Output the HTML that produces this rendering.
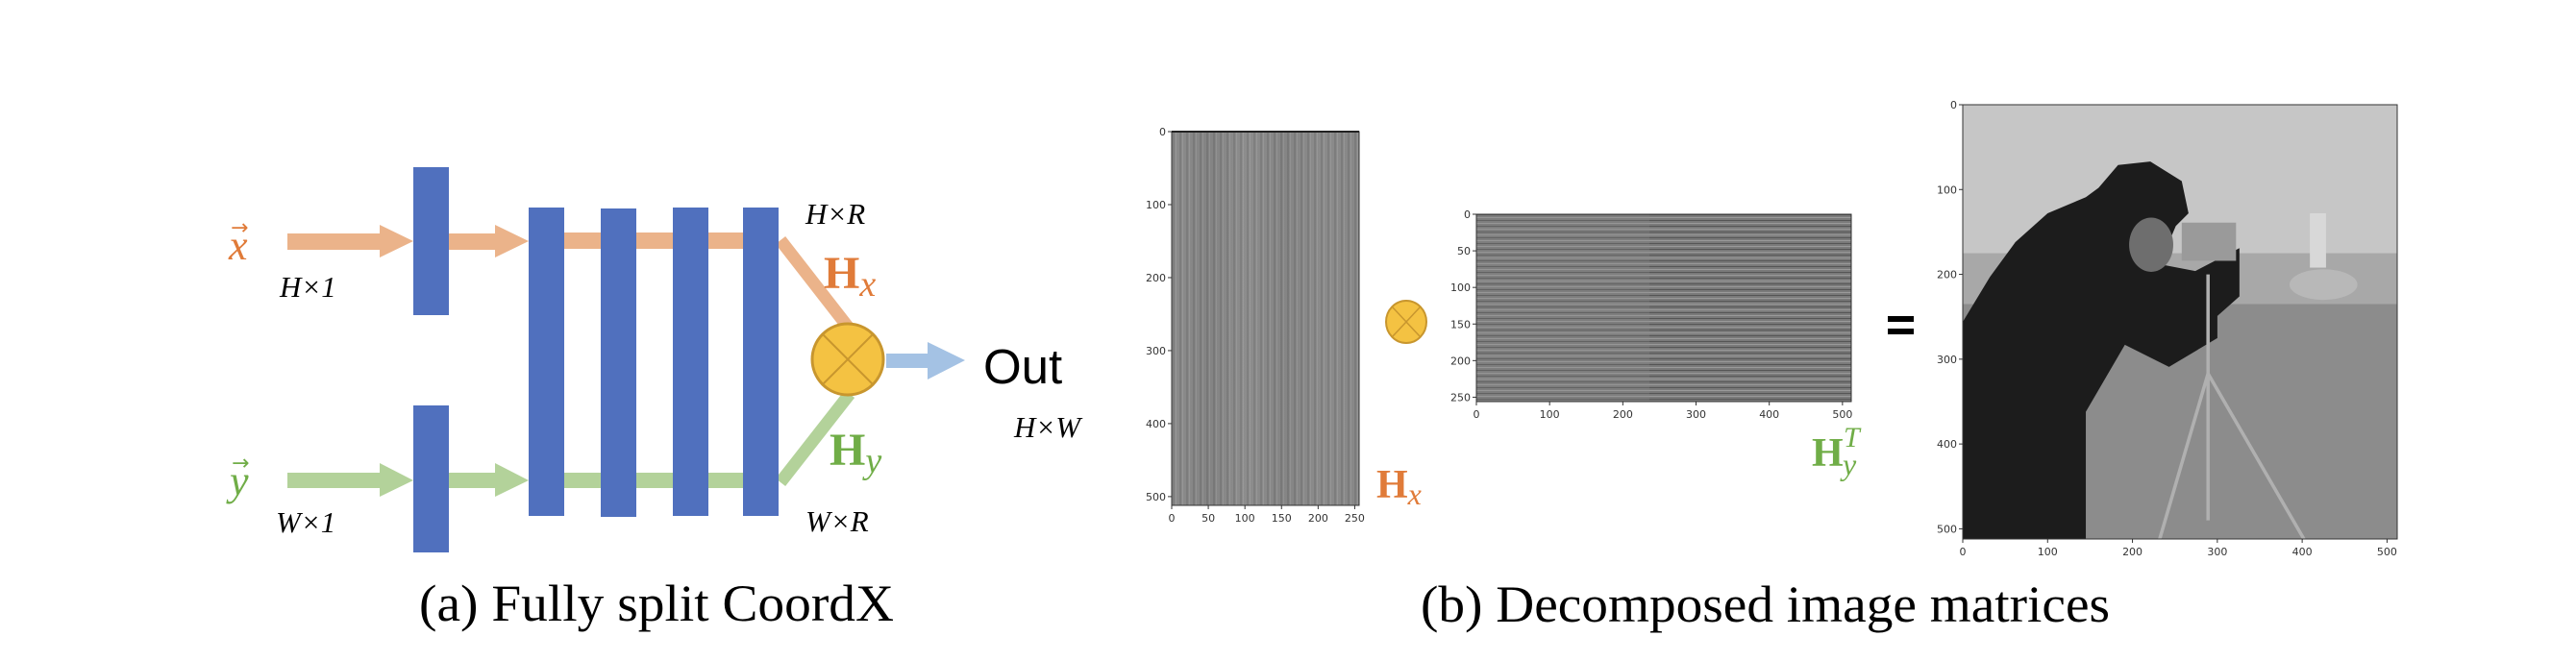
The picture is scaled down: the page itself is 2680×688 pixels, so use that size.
<!DOCTYPE html>
<html><head><meta charset="utf-8">
<style>
html,body{margin:0;padding:0;background:#fff;}
svg{display:block;}
.it{font-family:"Liberation Serif",serif;font-style:italic;}
.tk{font-family:"DejaVu Sans","Liberation Sans",sans-serif;font-size:11px;fill:#333;}
</style></head>
<body>
<svg id="fig" width="2680" height="688" viewBox="0 0 2680 688" xmlns="http://www.w3.org/2000/svg">
<defs>
<linearGradient id="hxg" x1="0" x2="1" y1="0" y2="0">
<stop offset="0" stop-color="#8d8d8d"/><stop offset="0.2" stop-color="#7e7e7e"/><stop offset="0.4" stop-color="#909090"/><stop offset="0.6" stop-color="#808080"/><stop offset="0.8" stop-color="#8c8c8c"/><stop offset="1" stop-color="#858585"/>
</linearGradient>
<pattern id="vstripes" width="7" height="10" patternUnits="userSpaceOnUse">
<rect width="7" height="10" fill="#8a8a8a"/><rect x="2" width="2" height="10" fill="#6e6e6e"/><rect x="5" width="1" height="10" fill="#a5a5a5"/>
</pattern>
<pattern id="hstripes" width="10" height="6" patternUnits="userSpaceOnUse">
<rect width="10" height="6" fill="#7a7a7a"/><rect y="1" width="10" height="1" fill="#555"/><rect y="4" width="10" height="1" fill="#9a9a9a"/>
</pattern>
</defs>

<g>
<rect x="299" y="243" width="100" height="17" fill="#EBB38A"/>
<polygon points="395,234 430,251 395,268" fill="#EBB38A"/>
<rect x="467" y="243" width="52" height="17" fill="#EBB38A"/>
<polygon points="515,234 550,251 515,268" fill="#EBB38A"/>
<rect x="587" y="242" width="190" height="17" fill="#EBB38A"/>
<rect x="299" y="492" width="100" height="16" fill="#B3D29A"/>
<polygon points="395,482 430,500 395,517" fill="#B3D29A"/>
<rect x="467" y="492" width="52" height="16" fill="#B3D29A"/>
<polygon points="515,482 550,500 515,517" fill="#B3D29A"/>
<rect x="587" y="492" width="190" height="16" fill="#B3D29A"/>
<line x1="812" y1="250" x2="882" y2="340" stroke="#EBB38A" stroke-width="13"/>
<line x1="812" y1="502" x2="884" y2="410" stroke="#B3D29A" stroke-width="13"/>
<rect x="430" y="174" width="37" height="154" fill="#5070BE"/>
<rect x="430" y="422" width="37" height="153" fill="#5070BE"/>
<rect x="550" y="216" width="37" height="321" fill="#5070BE"/>
<rect x="625" y="217" width="37" height="321" fill="#5070BE"/>
<rect x="700" y="216" width="37" height="321" fill="#5070BE"/>
<rect x="773" y="216" width="37" height="321" fill="#5070BE"/>
<g>
<circle cx="882" cy="374" r="37" fill="#F4C242" stroke="#C8962E" stroke-width="3"/>
<line x1="856" y1="348" x2="908" y2="400" stroke="#C8962E" stroke-width="2"/>
<line x1="908" y1="348" x2="856" y2="400" stroke="#C8962E" stroke-width="2"/>
</g>
<rect x="922" y="368" width="44" height="15" fill="#A4C2E4"/>
<polygon points="965,356 1004,375 965,395" fill="#A4C2E4"/>
<text x="1023" y="399" font-family="Liberation Sans,sans-serif" font-size="51">Out</text>
<text class="it" x="1055" y="455" font-size="31">H×W</text>
<text class="it" x="838" y="233" font-size="31">H×R</text>
<text class="it" x="838" y="553" font-size="31">W×R</text>
<text class="it" x="291" y="309" font-size="31">H×1</text>
<text class="it" x="287" y="554" font-size="31">W×1</text>
<text class="it" x="238" y="270" font-size="44" fill="#E07B39">x</text>
<text x="240" y="244" font-size="22" fill="#E07B39" font-family="DejaVu Sans,sans-serif">→</text>
<text class="it" x="239" y="515" font-size="44" fill="#70AD47">y</text>
<text x="241" y="489" font-size="22" fill="#70AD47" font-family="DejaVu Sans,sans-serif">→</text>
<text x="857" y="300" font-family="Liberation Serif,serif" font-weight="bold" font-size="48" fill="#E07B39">H<tspan class="it" font-weight="normal" font-size="38" dy="8">x</tspan></text>
<text x="863" y="484" font-family="Liberation Serif,serif" font-weight="bold" font-size="48" fill="#70AD47">H<tspan class="it" font-weight="normal" font-size="38" dy="8">y</tspan></text>
<text x="436" y="646" textLength="494" lengthAdjust="spacingAndGlyphs" font-family="Liberation Serif,serif" font-size="54">(a) Fully split CoordX</text>
</g>

<g id="hxPlot">
<rect x="1219" y="137" width="195" height="389" fill="url(#vstripes)"/>
<rect x="1219" y="137" width="195" height="389" fill="url(#hxg)" opacity="0.55"/>
<rect x="1219" y="137" width="195" height="389" fill="none" stroke="#333" stroke-width="1"/>
<line x1="1219" y1="137" x2="1414" y2="137" stroke="#222" stroke-width="2"/>
</g>
<g>
<ellipse cx="1463" cy="335" rx="21" ry="22" fill="#F4C242" stroke="#C8962E" stroke-width="2"/>
<line x1="1449" y1="320" x2="1477" y2="350" stroke="#C8962E" stroke-width="1.5"/>
<line x1="1477" y1="320" x2="1449" y2="350" stroke="#C8962E" stroke-width="1.5"/>
</g>
<text x="1432" y="518" font-family="Liberation Serif,serif" font-weight="bold" font-size="42" fill="#E07B39">H<tspan class="it" font-weight="normal" font-size="32" dy="7">x</tspan></text>

<g id="hyPlot">
<rect x="1536" y="223" width="390" height="195" fill="url(#hstripes)"/>
<rect x="1536" y="223" width="180" height="195" fill="#8a8a8a" opacity="0.25"/>
<rect x="1536" y="223" width="390" height="195" fill="none" stroke="#333" stroke-width="1"/>
</g>
<g>
<text x="1885" y="485" font-family="Liberation Serif,serif" font-weight="bold" font-size="42" fill="#70AD47">H</text>
<text class="it" x="1917" y="494" font-size="32" fill="#70AD47">y</text>
<text class="it" x="1918" y="465" font-size="30" fill="#70AD47">T</text>
</g>

<g>
<rect x="1964" y="329" width="27" height="6" fill="#000"/>
<rect x="1964" y="342" width="27" height="6" fill="#000"/>
</g>

<g id="photoPlot">
<g transform="translate(2042,109) scale(0.883)">
<rect width="512" height="512" fill="#8c8c8c"/>
<rect width="512" height="235" fill="#c6c6c6"/>
<rect y="175" width="512" height="60" fill="#a8a8a8"/>
<rect x="409" y="128" width="19" height="64" fill="#d8d8d8"/>
<ellipse cx="425" cy="212" rx="40" ry="18" fill="#b8b8b8"/>
<polygon points="0,256 32,203 62,162 100,128 145,109 160,98 183,71 221,67 258,90 266,128 251,143 232,188 274,196 326,169 326,226 300,249 300,275 243,309 191,283 145,362 145,512 0,512" fill="#1c1c1c"/>
<ellipse cx="222" cy="165" rx="26" ry="32" fill="#6e6e6e"/>
<rect x="258" y="139" width="64" height="45" fill="#9a9a9a"/>
<g stroke="#b0b0b0" stroke-width="4" fill="none">
<line x1="289" y1="200" x2="289" y2="490"/>
<line x1="289" y1="317" x2="232" y2="512"/>
<line x1="289" y1="317" x2="402" y2="512"/>
</g>
</g>
<rect x="2042" y="109" width="452" height="452" fill="none" stroke="#333" stroke-width="1"/>
</g>

<text x="1478" y="647" textLength="717" lengthAdjust="spacingAndGlyphs" font-family="Liberation Serif,serif" font-size="54">(b) Decomposed image matrices</text>
</svg>
<script>
var hxYTicks=[0,100,200,300,400,500];
var hxXTicks=[0,50,100,150,200,250];
var hyYTicks=[0,50,100,150,200,250];
var hyXTicks=[0,100,200,300,400,500];
var imgYTicks=[0,100,200,300,400,500];
var imgXTicks=[0,100,200,300,400,500];
var NS='http://www.w3.org/2000/svg';
function axes(g,x0,y0,w,h,nx,ny,xt,yt){
  function sx(v){return x0+v/nx*w;}
  function sy(v){return y0+v/ny*h;}
  xt.forEach(function(v){
    var l=document.createElementNS(NS,'line');
    l.setAttribute('x1',sx(v));l.setAttribute('x2',sx(v));l.setAttribute('y1',y0+h);l.setAttribute('y2',y0+h+4);l.setAttribute('stroke','#333');
    g.appendChild(l);
    var t=document.createElementNS(NS,'text');
    
    
    t.setAttribute('class','tk');t.setAttribute('x',sx(v));t.setAttribute('y',y0+h+17);t.setAttribute('text-anchor','middle');
    t.textContent=v;g.appendChild(t);
  });
  yt.forEach(function(v){
    var l=document.createElementNS(NS,'line');
    l.setAttribute('x1',x0-4);l.setAttribute('x2',x0);l.setAttribute('y1',sy(v));l.setAttribute('y2',sy(v));l.setAttribute('stroke','#333');
    g.appendChild(l);
    var t=document.createElementNS(NS,'text');
    
    
    t.setAttribute('class','tk');t.setAttribute('x',x0-6);t.setAttribute('y',sy(v)+4);t.setAttribute('text-anchor','end');
    t.textContent=v;g.appendChild(t);
  });
}
axes(document.getElementById('hxPlot'),1219,137,195,389,256,512,hxXTicks,hxYTicks);
axes(document.getElementById('hyPlot'),1536,223,390,195,512,256,hyXTicks,hyYTicks);
axes(document.getElementById('photoPlot'),2042,109,452,452,512,512,imgXTicks,imgYTicks);
</script>
</body></html>
